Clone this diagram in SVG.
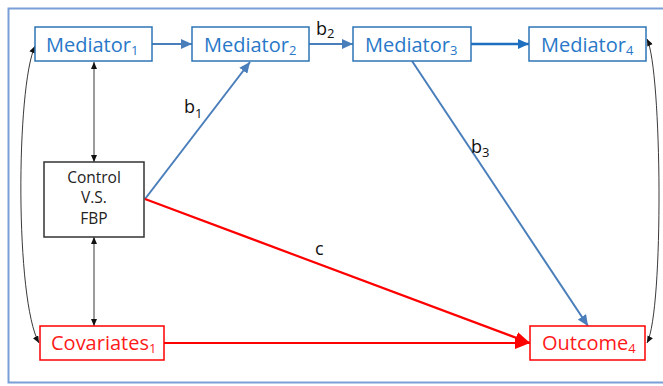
<svg xmlns="http://www.w3.org/2000/svg" width="663" height="386" viewBox="0 0 663 386">
<style>
.frame{fill:none;stroke:#7A9FD6;stroke-width:2}
.bbox{fill:#fff;stroke:#2E75B6;stroke-width:1.5}
.rbox{fill:#fff;stroke:#FF0000;stroke-width:1.5}
.kbox{fill:#fff;stroke:#333;stroke-width:1.5}
.bt{font-family:"Open Sans",sans-serif;font-size:20px;fill:#2878C8}
.rt{font-family:"Open Sans",sans-serif;font-size:20px;fill:#FF1A1A}
.kt{font-family:"Open Sans",sans-serif;font-size:15.5px;fill:#222;text-anchor:middle}
.lab{font-family:"Open Sans",sans-serif;font-size:18px;fill:#111}
.sub{font-size:13px}
.bl{fill:none;stroke:#4A7EBB;stroke-width:2}
.bl2{fill:none;stroke:#1F6FC0;stroke-width:2.5}
.rl{fill:none;stroke:#FF0000;stroke-width:2.2}
.kl{fill:none;stroke:#222;stroke-width:0.9}
</style>
<defs>
<marker id="ab" markerUnits="userSpaceOnUse" markerWidth="12" markerHeight="10" refX="11" refY="5" orient="auto"><path d="M0,0 L11,5 L0,10 Z" fill="#4A7EBB"/></marker>
<marker id="ab2" markerUnits="userSpaceOnUse" markerWidth="12" markerHeight="10" refX="11" refY="5" orient="auto"><path d="M0,0 L11,5 L0,10 Z" fill="#1F6FC0"/></marker>
<marker id="ar" markerUnits="userSpaceOnUse" markerWidth="16" markerHeight="12" refX="15" refY="6" orient="auto"><path d="M0,0 L15,6 L0,12 Z" fill="#FF0000"/></marker>
<marker id="ak" markerUnits="userSpaceOnUse" markerWidth="8" markerHeight="6" refX="7" refY="3" orient="auto"><path d="M0,0 L7,3 L0,6 Z" fill="#111"/></marker>
<marker id="aks" markerUnits="userSpaceOnUse" markerWidth="8" markerHeight="6" refX="0" refY="3" orient="auto"><path d="M7,0 L0,3 L7,6 Z" fill="#111"/></marker>
</defs>
<rect class="frame" x="8.5" y="8.5" width="664" height="374"/>
<g id="connectors">
<line class="bl" x1="152" y1="44" x2="192" y2="44" marker-end="url(#ab)"/>
<line class="bl" x1="309" y1="44" x2="353" y2="44" marker-end="url(#ab)"/>
<line class="bl2" x1="471" y1="44" x2="529" y2="44" marker-end="url(#ab2)"/>
<line class="bl" x1="145" y1="199" x2="250" y2="62" marker-end="url(#ab)"/>
<line class="bl" x1="412" y1="61" x2="588" y2="326" marker-end="url(#ab)"/>
<line class="rl" x1="145" y1="199" x2="530" y2="343" marker-end="url(#ar)"/>
<line class="rl" x1="164" y1="343" x2="530" y2="343" marker-end="url(#ar)"/>
<line class="kl" x1="94" y1="62" x2="94" y2="162" marker-start="url(#aks)" marker-end="url(#ak)"/>
<line class="kl" x1="94" y1="237" x2="94" y2="326" marker-start="url(#aks)" marker-end="url(#ak)"/>
<path class="kl" d="M35,46 C16,88 15,300 39,343" marker-start="url(#aks)" marker-end="url(#ak)"/>
<path class="kl" d="M647,39 C662,70 664,310 647,343" marker-start="url(#aks)" marker-end="url(#ak)"/>
<text class="lab" x="316" y="35">b<tspan class="sub" dy="3">2</tspan></text>
<text class="lab" x="184" y="113">b<tspan class="sub" dy="5">1</tspan></text>
<text class="lab" x="471" y="153">b<tspan class="sub" dy="4">3</tspan></text>
<text class="lab" x="315" y="255">c</text>
</g>
<g id="mediator1"><rect class="bbox" x="35" y="27" width="117" height="34"/><text class="bt" x="46" y="52">Mediator<tspan class="sub" dy="3">1</tspan></text></g>
<g id="mediator2"><rect class="bbox" x="192" y="27" width="117" height="34"/><text class="bt" x="204" y="52">Mediator<tspan class="sub" dy="3">2</tspan></text></g>
<g id="mediator3"><rect class="bbox" x="353" y="27" width="118" height="34"/><text class="bt" x="365" y="52">Mediator<tspan class="sub" dy="3">3</tspan></text></g>
<g id="mediator4"><rect class="bbox" x="529" y="27" width="117" height="34"/><text class="bt" x="541" y="52">Mediator<tspan class="sub" dy="3">4</tspan></text></g>
<g id="control"><rect class="kbox" x="44" y="162" width="100" height="75"/><text class="kt" x="94" y="183">Control</text><text class="kt" x="94" y="203">V.S.</text><text class="kt" x="94" y="224">FBP</text></g>
<g id="covariates1"><rect class="rbox" x="40" y="326" width="124" height="34"/><text class="rt" x="51" y="350">Covariates<tspan class="sub" dy="3">1</tspan></text></g>
<g id="outcome4"><rect class="rbox" x="530" y="326" width="115" height="34"/><text class="rt" x="542" y="350">Outcome<tspan class="sub" dy="3">4</tspan></text></g>
</svg>
